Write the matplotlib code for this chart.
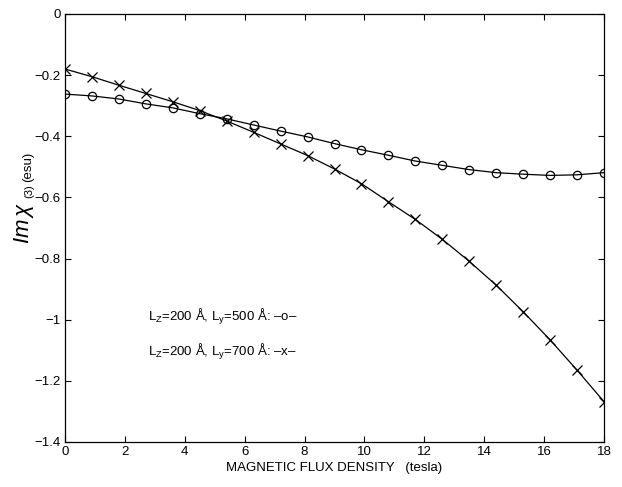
import matplotlib
matplotlib.use("Agg")
import matplotlib.pyplot as plt

plt.rcParams['font.family'] = ['Liberation Sans', 'DejaVu Sans']
plt.rcParams['mathtext.fontset'] = 'custom'
plt.rcParams['mathtext.rm'] = 'Liberation Sans'
plt.rcParams['mathtext.it'] = 'Liberation Sans:italic'
plt.rcParams['mathtext.bf'] = 'Liberation Sans:bold'

field = [0, 0.9, 1.8, 2.7, 3.6, 4.5, 5.4, 6.3, 7.2, 8.1, 9.0, 9.9,
         10.8, 11.7, 12.6, 13.5, 14.4, 15.3, 16.2, 17.1, 18.0]
chi_ly500 = [-0.262, -0.268, -0.278, -0.294, -0.307, -0.326, -0.343, -0.363,
             -0.383, -0.402, -0.424, -0.444, -0.462, -0.481, -0.495, -0.509,
             -0.519, -0.524, -0.528, -0.526, -0.519]
chi_ly700 = [-0.180, -0.205, -0.233, -0.260, -0.287, -0.316, -0.350, -0.387,
             -0.425, -0.463, -0.507, -0.555, -0.614, -0.672, -0.737, -0.809,
             -0.887, -0.974, -1.066, -1.165, -1.268]
xticks = [0, 2, 4, 6, 8, 10, 12, 14, 16, 18]
yticks = [0, -0.2, -0.4, -0.6, -0.8, -1, -1.2, -1.4]
ytick_labels = ['0', '\u22120.2', '\u22120.4', '\u22120.6', '\u22120.8', '\u22121', '\u22121.2', '\u22121.4']

fig = plt.figure(figsize=(6.22, 4.87), dpi=100)
ax = fig.add_axes([65/622, 1-442/487, 539/622, 428/487])

ax.plot(field, chi_ly500, color='black', lw=0.9, marker='o', ms=6,
        mfc='none', mec='black', mew=0.9)
ax.plot(field, chi_ly700, color='black', lw=0.9, marker='x', ms=6.5,
        mec='black', mew=0.9)

ax.set_xlim(0, 18)
ax.set_ylim(-1.4, 0)
ax.set_xticks(xticks)
ax.set_yticks(yticks)
ax.set_yticklabels(ytick_labels)
ax.tick_params(direction='in', top=True, right=True, length=4, width=0.8,
               labelsize=9.5, colors='black', pad=3)
for s in ax.spines.values():
    s.set_linewidth(0.9)

ax.set_xlabel('MAGNETIC FLUX DENSITY   (tesla)', fontsize=9.5, labelpad=2.5)

ax.text(2.77, -0.99, 'L$_\\mathrm{Z}$=200 \u00c5, L$_\\mathrm{y}$=500 \u00c5: \u2013o\u2013',
        fontsize=9.5, va='center', ha='left')
ax.text(2.77, -1.105, 'L$_\\mathrm{Z}$=200 \u00c5, L$_\\mathrm{y}$=700 \u00c5: \u2013x\u2013',
        fontsize=9.5, va='center', ha='left')

fig.text(24/622, 1-244/487, r'$\mathit{Im}\,\chi$', rotation=90,
         fontsize=16, ha='center', va='bottom')
fig.text(29/622, 1-198/487, '(3)', rotation=90,
         fontsize=8, ha='center', va='bottom')
fig.text(28/622, 1-182/487, '(esu)', rotation=90,
         fontsize=9.5, ha='center', va='bottom')

fig.savefig('out.png', dpi=100)
